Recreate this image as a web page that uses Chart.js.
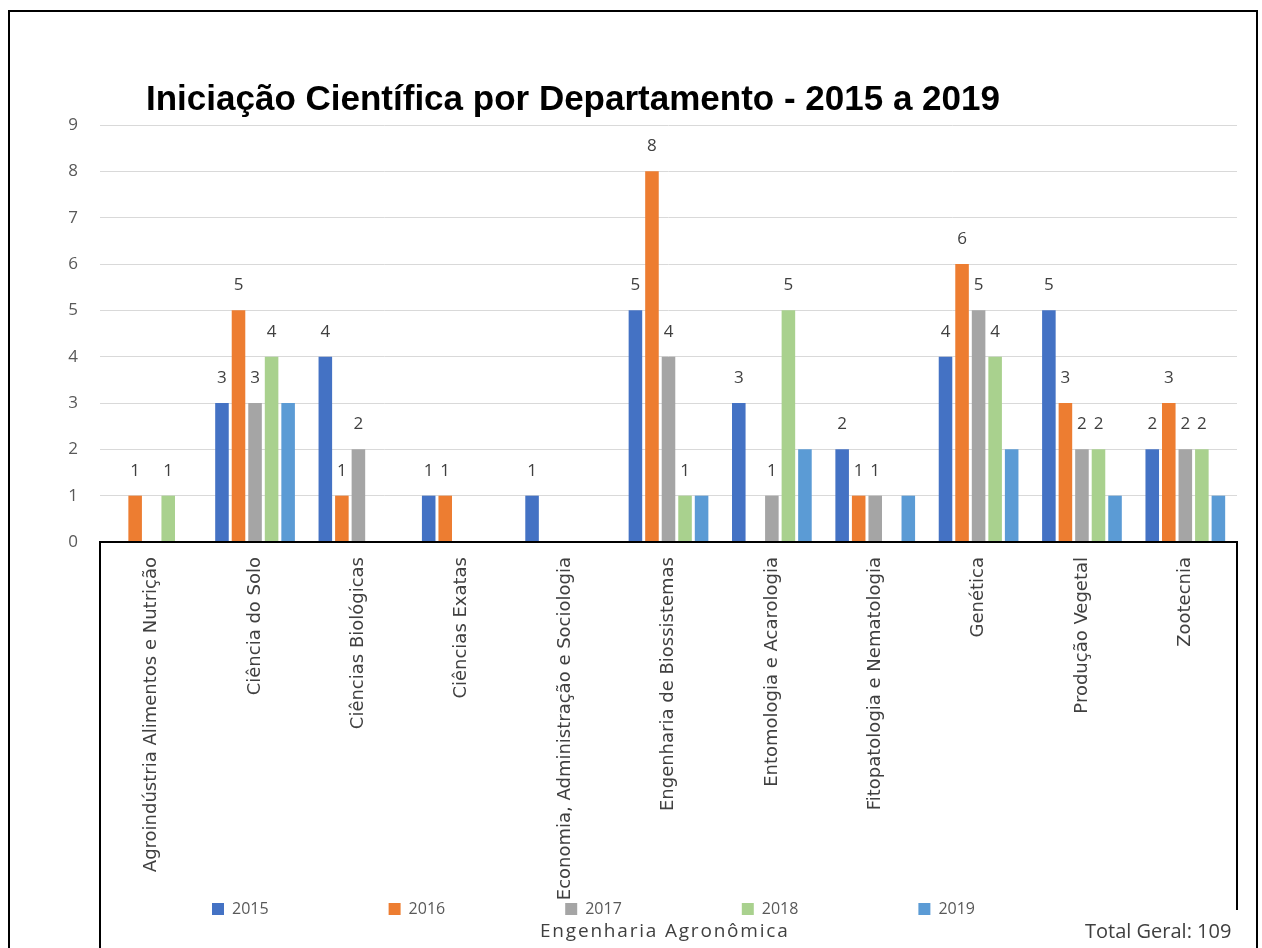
<!DOCTYPE html>
<html>
<head>
<meta charset="utf-8">
<script src="https://cdn.jsdelivr.net/npm/chart.js@4.4.1/dist/chart.umd.min.js"></script>
<style>
    body { margin: 0; background: #fff; }
    #wrap { position: relative; width: 1262px; height: 948px; overflow: hidden; }
    #frame { position: absolute; left: 8px; top: 10px; width: 1246px; height: 960px; border: 2px solid #000; }
    #box { position: absolute; left: 0; top: 0; width: 1262px; height: 948px; }
    .txt { position: absolute; white-space: nowrap; color: #404040; }
    #titulo { left: 146px; top: 78px; font: bold 35px "Liberation Sans", Arial, sans-serif; line-height: 40px; color: #000; }
    #eixo { left: 540px; top: 917px; font: 19px "Open Sans", sans-serif; letter-spacing: 1.8px; }
    #total { left: 1085px; top: 917px; font: 20px "Open Sans", sans-serif; }
</style>
</head>
<body>
<div id="wrap">
    <div id="frame"></div>
    <div id="box"><canvas id="chartIC"></canvas></div>
    <div class="txt" id="titulo">Iniciação Científica por Departamento - 2015 a 2019</div>
    <div class="txt" id="eixo">Engenharia Agronômica</div>
    <div class="txt" id="total">Total Geral: 109</div>
</div>
<script>
const departamentos = [
    'Agroindústria Alimentos e Nutrição',
    'Ciência do Solo',
    'Ciências Biológicas',
    'Ciências Exatas',
    'Economia, Administração e Sociologia',
    'Engenharia de Biossistemas',
    'Entomologia e Acarologia',
    'Fitopatologia e Nematologia',
    'Genética',
    'Produção Vegetal',
    'Zootecnia'
];
const anos = ['2015', '2016', '2017', '2018', '2019'];
const v2015 = [0, 3, 4, 1, 1, 5, 3, 2, 4, 5, 2];
const v2016 = [1, 5, 1, 1, 0, 8, 0, 1, 6, 3, 3];
const v2017 = [0, 3, 2, 0, 0, 4, 1, 1, 5, 2, 2];
const v2018 = [1, 4, 0, 0, 0, 1, 5, 0, 4, 2, 2];
const v2019 = [0, 3, 0, 0, 0, 1, 2, 1, 2, 1, 1];
const yMax = 9;
// anos que levam rótulo de valor (2019 não tem)
const anosComRotulo = ['2015', '2016', '2017', '2018'];

const cores = ['#4472C4', '#ED7D31', '#A5A5A5', '#A9D18E', '#5B9BD5'];
const series = [v2015, v2016, v2017, v2018, v2019];

const rotulos = {
    id: 'rotulos',
    afterDatasetsDraw(chart) {
        const ctx = chart.ctx;
        ctx.save();
        ctx.font = '17px "Open Sans"';
        ctx.fillStyle = '#404040';
        ctx.textAlign = 'center';
        ctx.textBaseline = 'middle';
        chart.data.datasets.forEach((ds, i) => {
            if (!anosComRotulo.includes(ds.label)) return;
            chart.getDatasetMeta(i).data.forEach((bar, j) => {
                if (!ds.data[j]) return;
                ctx.fillText(ds.data[j], bar.x, bar.y - 25);
            });
        });
        ctx.restore();
    }
};

// caixa dos rótulos do eixo x + legenda por cima dos rótulos (como no Excel)
const caixa = {
    id: 'caixa',
    afterLayout(chart) {
        const l = chart.legend;
        l.top = chart.chartArea.bottom + 239;
        l.bottom = chart.height;
        l.left -= 25;
        l.right -= 25;
    },
    afterDraw(chart) {
        const ctx = chart.ctx;
        const a = chart.chartArea;
        ctx.save();
        ctx.strokeStyle = '#000';
        ctx.lineWidth = 2;
        ctx.beginPath();
        ctx.moveTo(a.left, chart.height);
        ctx.lineTo(a.left, a.bottom);
        ctx.lineTo(a.right, a.bottom);
        ctx.lineTo(a.right, 910);
        ctx.stroke();
        ctx.restore();
    }
};

const ctxIC = document.getElementById('chartIC');
const chartIC = new Chart(ctxIC, {
    type: 'bar',
    data: {
        labels: departamentos,
        datasets: anos.map((ano, i) => ({
            label: ano,
            data: series[i],
            backgroundColor: cores[i],
            categoryPercentage: 0.8,
            barPercentage: 0.82
        }))
    },
    options: {
        responsive: true,
        maintainAspectRatio: false,
        animation: false,
        layout: {
            padding: { left: 0, right: 25, top: 125, bottom: 0 }
        },
        plugins: {
            legend: {
                position: 'bottom',
                maxHeight: 26,
                labels: {
                    boxWidth: 12,
                    boxHeight: 12,
                    padding: 120,
                    color: '#595959',
                    font: { family: 'Open Sans', size: 16 }
                }
            },
            tooltip: { enabled: false }
        },
        scales: {
            x: {
                grid: { display: false },
                border: { display: false },
                ticks: {
                    autoSkip: false,
                    minRotation: 90,
                    maxRotation: 90,
                    padding: 7,
                    color: '#404040',
                    font: { family: 'DejaVu Sans', size: 18 }
                },
                afterFit(scale) {
                    scale.height = 380;
                }
            },
            y: {
                min: 0,
                max: yMax,
                grid: { color: '#d9d9d9', drawTicks: false },
                border: { display: false },
                ticks: {
                    stepSize: 1,
                    padding: 22,
                    color: '#595959',
                    font: { family: 'Open Sans', size: 17 }
                },
                afterFit(scale) {
                    scale.width = 100;
                }
            }
        }
    },
    plugins: [rotulos, caixa]
});
</script>
</body>
</html>
